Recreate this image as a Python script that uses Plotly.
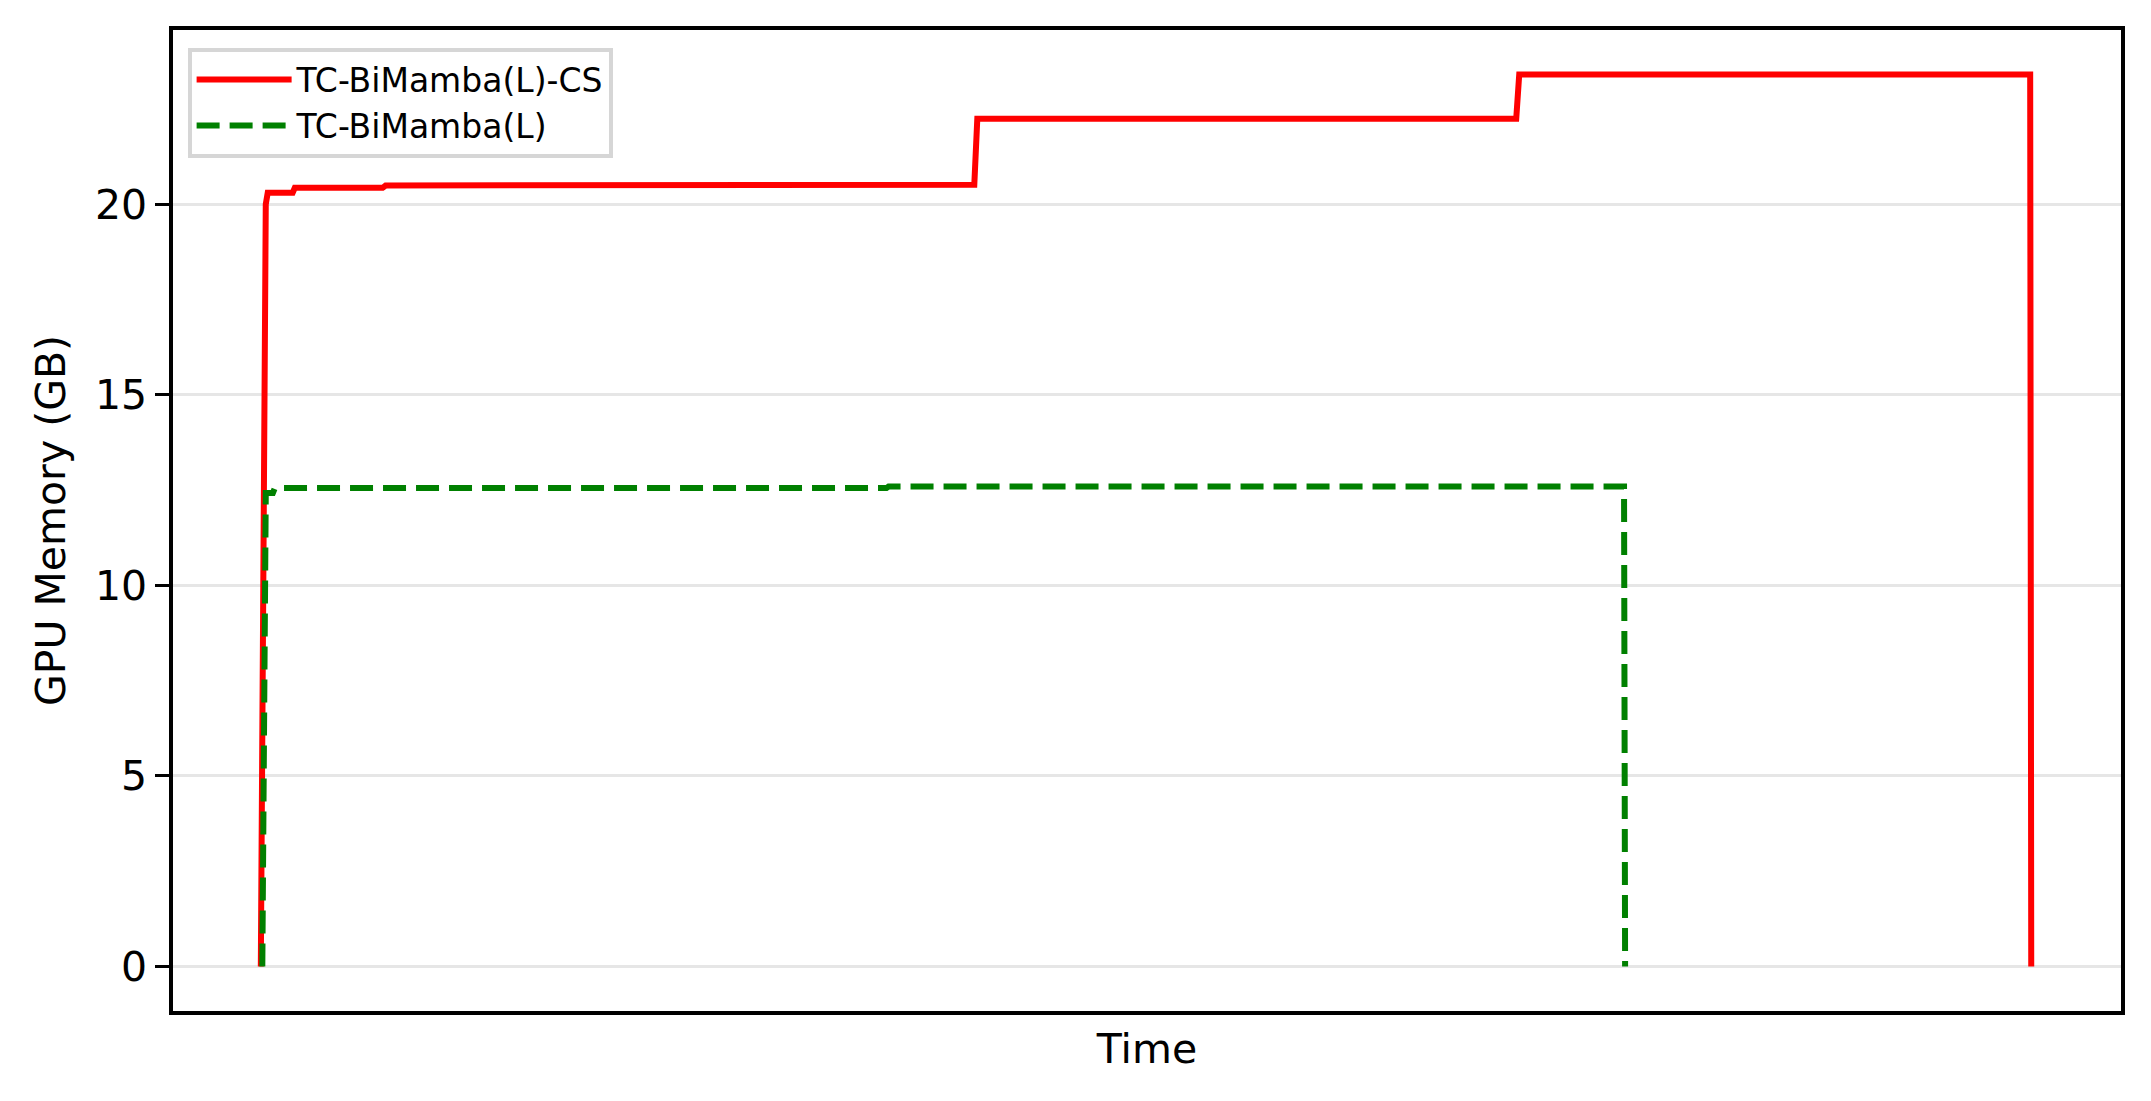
import plotly.graph_objects as go

# time axis is arbitrary (no ticks shown)
cs_time = [0, 2.25, 2.8, 3.9, 18.0, 19.2, 68.8, 70.5, 373.2, 373.7, 403.0, 404.7, 709.1, 710.8, 999.4, 1000]
cs_mem = [0, 19.0, 20.0, 20.30, 20.30, 20.43, 20.43, 20.49, 20.49, 20.51, 20.51, 22.24, 22.24, 23.40, 23.40, 0]

base_time = [0.85, 2.8, 6.8, 7.9, 353.4, 354.6, 770.0, 770.6]
base_mem = [0, 12.42, 12.42, 12.55, 12.55, 12.59, 12.59, 0]

series_names = ['TC-BiMamba(L)-CS', 'TC-BiMamba(L)']
y_ticks = [0, 5, 10, 15, 20]

font_family = 'DejaVu Sans'

fig = go.Figure()
fig.add_trace(go.Scatter(
    x=cs_time, y=cs_mem, mode='lines', name=series_names[0],
    line=dict(color='#ff0000', width=6),
))
fig.add_trace(go.Scatter(
    x=base_time, y=base_mem, mode='lines', name=series_names[1],
    line=dict(color='#008000', width=6, dash='23px,10px'),
))

# page body has an 8px margin, so the figure is a bit smaller than the window
fig.update_layout(
    width=2143, height=1093,
    margin=dict(l=165, r=30, t=22, b=90),
    plot_bgcolor='white', paper_bgcolor='white',
    font=dict(family=font_family, size=41, color='black'),
    legend=dict(
        x=0.0075, y=0.982, xanchor='left', yanchor='top',
        bgcolor='white', bordercolor='#d6d6d6', borderwidth=4,
        font=dict(size=33), itemwidth=95, entrywidth=335,
    ),
)

fig.update_xaxes(
    range=[-49.6, 1050.7], showticklabels=False, ticks='',
    showgrid=False, zeroline=False,
    showline=True, linecolor='black', linewidth=3.5, mirror=True,
    title=dict(text='Time', standoff=22, font=dict(size=41)),
)
fig.update_yaxes(
    range=[-1.17, 24.57], tickvals=y_ticks,
    ticks='outside', ticklen=14, tickwidth=3, tickcolor='black',
    showgrid=True, gridcolor='#e6e6e6', gridwidth=2.5, zeroline=False,
    showline=True, linecolor='black', linewidth=3.5, mirror=True,
    title=dict(text='GPU Memory (GB)', standoff=18, font=dict(size=41)),
)

fig.write_html('out.html')
